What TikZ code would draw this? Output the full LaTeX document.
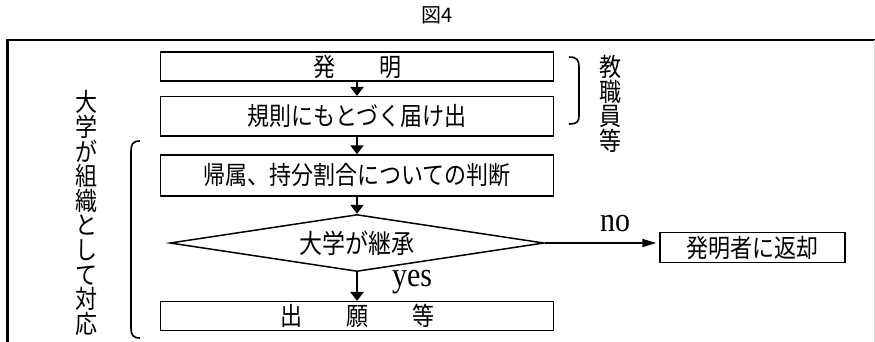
\documentclass[tikz,border=0pt]{standalone}
\usepackage{fontspec}
\setmainfont{Liberation Serif}
\newfontfamily\jp{Noto Sans CJK JP}
\usetikzlibrary{arrows.meta,shapes.geometric}
\newcommand\tallj[1]{\scalebox{1}[1.15]{#1}}
\begin{document}
\begin{tikzpicture}[x=1pt,y=-1pt,
  box/.style={draw, line width=1.5pt, minimum width=393pt, inner sep=0pt,
    font=\jp\fontsize{22}{22}\selectfont},
  sidebox/.style={draw, line width=1.5pt, minimum width=185pt, minimum height=30pt, inner sep=0pt,
    font=\jp\fontsize{22}{22}\selectfont},
  dec/.style={draw, diamond, line width=1.5pt, minimum width=374pt, minimum height=57pt,
    inner sep=0pt, aspect=6.5, font=\jp\fontsize{23}{23}\selectfont},
  flow/.style={line width=2.8pt, -{Triangle[width=13pt,length=9pt]}},
  noflow/.style={line width=1.6pt, -{Triangle[width=8pt,length=14pt]}, shorten >=3pt},
  vtext/.style={align=center, inner sep=0pt, font=\jp\fontsize{22}{24.6}\selectfont},
  lbl/.style={inner sep=0pt, font=\fontsize{30}{30}\selectfont},
  brace/.style={line width=1.6pt},
  frame/.style={line width=2.2pt}
]
\useasboundingbox (0,0) rectangle (875,341);
\clip (0,0) rectangle (875,341);
\fill[white] (0,0) rectangle (875,341);

% title
\node[font=\jp\fontsize{20}{20}\selectfont] (title) at (437,15) {図4};

% frame
\draw[frame] (7.5,345) -- (7.5,40) -- (880,40);
\draw[line width=1pt, black!15] (874,40) -- (874,345);

% main column
\node[box, minimum height=29pt] (hatsu) at (357,66.7) {\tallj{発　　明}};
\node[box, minimum height=39.3pt] (kisoku) at (357,116.3) {\tallj{規則にもとづく届け出}};
\node[box, minimum height=41pt] (kizoku) at (357,175.5) {\tallj{帰属、持分割合についての判断}};
\node[dec] (keisho) at (357,243) {\tallj{大学が継承}};
\node[box, minimum height=29pt] (shutsu) at (357,316.2) {\tallj{出　　願　　等}};
\node[sidebox] (henkyaku) at (752.5,247.7) {\tallj{発明者に返却}};

% arrows
\draw[flow] (hatsu.south) -- (kisoku.north);
\draw[flow] (kisoku.south) -- (kizoku.north);
\draw[flow] (kizoku.south) -- (keisho.north);
\draw[flow] (keisho.south) -- (shutsu.north);
\draw[noflow] (keisho.east) -- (henkyaku.west |- keisho.east);

% labels
\node[lbl] (no) at (615,224) {\scalebox{1}[1.15]{no}};
\node[lbl] (yes) at (412,282) {\scalebox{1}[1.15]{yes}};

% side texts
\node[vtext] (kyoshoku) at (610,104) {\tallj{教}\\\tallj{職}\\\tallj{員}\\\tallj{等}};
\node[vtext] (daigaku) at (86,213) {\tallj{大}\\\tallj{学}\\\tallj{が}\\\tallj{組}\\\tallj{織}\\\tallj{と}\\\tallj{し}\\\tallj{て}\\\tallj{対}\\\tallj{応}};

% brackets
\draw[brace] (569,57) .. controls (577,57) and (579,60) .. (579,67) -- (579,115)
  .. controls (579,122) and (577,124) .. (569,124);
\draw[brace] (140,141) .. controls (133,141) and (131,144) .. (131,151) -- (131,328)
  .. controls (131,335) and (133,338) .. (140,338);
\end{tikzpicture}
\end{document}
